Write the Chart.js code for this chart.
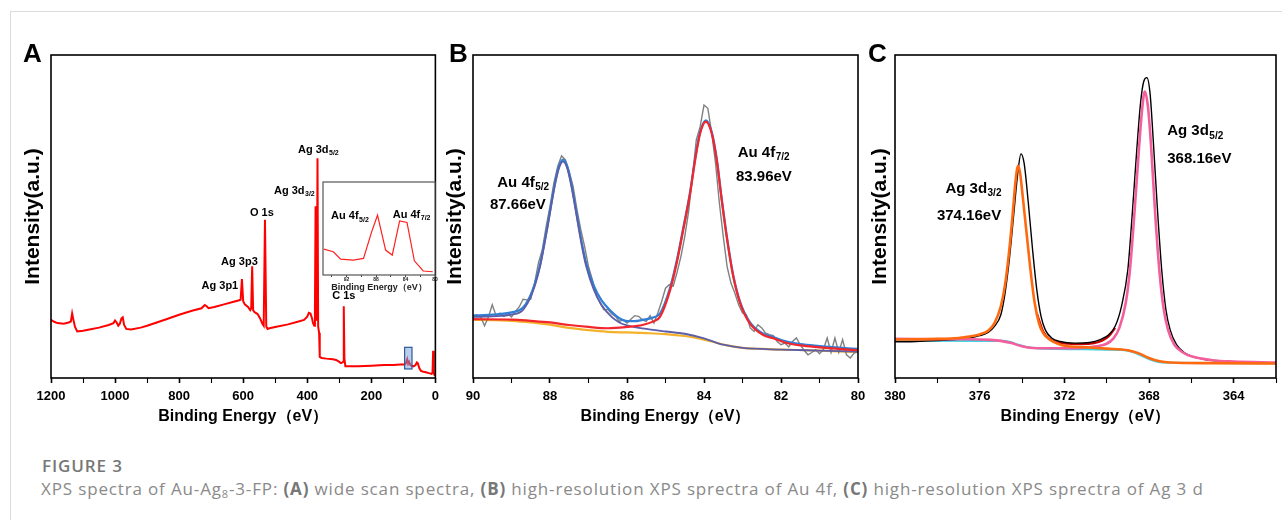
<!DOCTYPE html>
<html>
<head>
<meta charset="utf-8">
<script src="https://cdn.jsdelivr.net/npm/chart.js@4.4.1/dist/chart.umd.min.js"></script>
<style>
  body { margin: 0; background: #fff; width: 1282px; height: 520px; overflow: hidden; position: relative; }
  .card { position: absolute; left: 10px; top: 11px; width: 1272px; height: 509px; border-left: 1px solid #dcdcdc; border-top: 1px solid #dcdcdc; }
  canvas { position: absolute; }
  .letter { position: absolute; font: bold 26px "Liberation Sans", Arial, sans-serif; line-height: 26px; color: #000; }
  #fig { position: absolute; left: 42px; top: 457px; font: 600 17px "Open Sans", sans-serif; line-height: 17px; color: #777; letter-spacing: 0.9px; }
  #cap { position: absolute; left: 41px; top: 481px; font: 400 17px "Open Sans", sans-serif; line-height: 16px; color: #8a8a8a; white-space: nowrap; letter-spacing: 0.85px; }
  #cap b { font-weight: 700; color: #777; }
  #cap sub { font-size: 11px; vertical-align: -3px; line-height: 0; }
</style>
</head>
<body>
<div class="card"></div>
<canvas id="chartA" width="445" height="420" style="left:0;top:20px"></canvas>
<canvas id="chartB" width="432" height="420" style="left:440px;top:20px"></canvas>
<canvas id="chartC" width="422" height="420" style="left:860px;top:20px"></canvas>
<canvas id="inset" width="122" height="118" style="left:318px;top:176px"></canvas>
<div class="letter" style="left:23px;top:40px">A</div>
<div class="letter" style="left:449px;top:40px">B</div>
<div class="letter" style="left:868px;top:40px">C</div>
<div id="fig">FIGURE 3</div>
<div id="cap">XPS spectra of Au-Ag<sub>8</sub>-3-FP: <b>(A)</b> wide scan spectra, <b>(B)</b> high-resolution XPS sprectra of Au 4f, <b>(C)</b> high-resolution XPS sprectra of Ag 3 d</div>
<script>
const FONT = '"Liberation Sans", Arial, sans-serif';
Chart.defaults.font.family = FONT;
Chart.defaults.color = '#000';

// A: wide scan survey
const surveyE = [1200,1190,1180,1160,1145,1138,1134,1130,1125,1118,1100,1080,1050,1020,1005,1000,995,990,985,980,976,972,965,950,920,900,870,840,800,760,730,720,714,708,690,660,630,615,608,604,600,595,585,578,575,572,569,565,555,548,540,536,532,528,524,518,500,460,430,410,400,395,390,385,382,378,376,374,372,370,368,366,363,361,355,340,320,310,300,295,290,288,286,284,281,270,240,200,160,130,110,100,96,92,88,85,82,78,74,68,62,58,55,50,45,40,30,20,12,9,7,5,3,1,0];
const surveyI = [18.0,17.4,17.0,16.8,17.2,17.5,20.0,18.0,15.8,14.4,14.6,15.0,15.6,16.4,17.0,17.8,17.2,16.2,16.8,18.5,18.8,16.5,15.2,15.0,15.6,16.2,17.2,18.2,19.6,20.8,21.6,22.6,22.2,21.6,22.0,22.8,23.6,24.0,24.2,30.6,23.8,22.8,22.0,21.0,21.5,34.6,21.0,20.4,19.8,18.6,16.8,16.2,49.0,16.0,15.2,15.4,15.8,16.6,17.4,18.0,19.0,20.2,20.0,18.4,17.0,16.2,22.0,53.2,18.0,20.0,68.0,16.0,14.0,6.5,6.2,6.0,5.8,5.6,5.0,4.6,4.8,5.0,22.2,6.0,3.6,3.6,3.6,3.8,4.0,4.0,4.2,4.2,4.2,4.6,5.8,4.4,5.0,4.0,3.8,3.6,4.0,4.8,4.6,3.0,2.2,2.0,1.8,1.5,1.3,1.6,8.4,1.4,1.0,1.2,1.0];

// inset of A: Au 4f region
const insetE = [95.1,93.8,92.8,91.1,89.7,88.6,87.8,86.7,85.8,84.8,83.8,82.8,81.6,80.3];
const insetI = [27.9,25.0,17.1,16.1,17.9,46.4,64.3,26.8,21.4,58.2,56.5,15.3,4.3,3.5];

// B: Au 4f
const auRawE = [90.0,89.9,89.8,89.7,89.6,89.5,89.4,89.3,89.2,89.1,89.0,88.9,88.8,88.7,88.6,88.5,88.4,88.3,88.2,88.1,88.0,87.9,87.8,87.7,87.6,87.5,87.4,87.3,87.2,87.1,87.0,86.9,86.8,86.7,86.6,86.5,86.4,86.3,86.2,86.1,86.0,85.9,85.8,85.7,85.6,85.5,85.4,85.3,85.2,85.1,85.0,84.9,84.8,84.7,84.6,84.5,84.4,84.3,84.2,84.1,84.0,83.9,83.8,83.7,83.6,83.5,83.4,83.3,83.2,83.1,83.0,82.9,82.8,82.7,82.6,82.5,82.4,82.3,82.2,82.1,82.0,81.9,81.8,81.7,81.6,81.5,81.4,81.3,81.2,81.1,81.0,80.9,80.8,80.7,80.6,80.5,80.4,80.3,80.2,80.1,80.0];
const auRawI = [19.3,19.6,18.9,16.2,18.9,22.7,19.3,20.1,19.1,19.9,18.9,20.6,22.0,24.4,24.2,24.4,29.4,35.6,39.7,46.9,53.1,60.3,65.5,68.8,67.5,63.9,59.3,52.1,45.9,40.7,34.5,30.4,25.8,23.2,21.1,21.3,19.9,19.1,17.5,18.0,17.0,18.2,19.3,19.1,18.0,17.5,19.3,17.0,20.1,23.7,27.8,28.9,28.4,32.7,37.6,43.8,51.5,62.4,73.7,77.8,84.5,83.5,75.8,66.5,54.1,43.8,34.5,29.4,26.3,22.7,20.1,19.6,15.5,14.4,16.5,15.5,13.9,13.4,13.1,11.3,10.3,10.8,9.6,11.3,12.4,10.3,8.6,7.2,7.9,8.8,7.5,8.8,12.4,7.9,12.4,7.9,11.9,7.2,6.2,7.7,8.2];
const auEnvE = [90,89.5,89,88.7,88.46,88.26,88.16,88.06,87.96,87.86,87.76,87.66,87.56,87.46,87.36,87.26,87.16,87.06,86.86,86.66,86.4,86.2,86.0,85.8,85.6,85.3,85.14,84.88,84.71,84.54,84.36,84.23,84.10,83.95,83.80,83.67,83.54,83.41,83.24,83.06,82.81,82.46,82.2,81.9,81.5,81,80.5,80];
const auEnvI = [19.3,19.6,20.3,21.8,27.0,35.0,41.0,47.5,54.5,61.0,65.8,67.6,65.8,61.0,54.5,47.5,41.0,35.5,28.5,24.0,20.5,18.5,17.6,17.6,18.0,18.8,20.0,28.0,36.2,46.4,57.7,67.9,76.2,79.8,76.2,67.9,55.5,44.1,31.8,23.5,17.3,13.7,12.7,11.4,10.5,9.9,9.4,9.0];
const au52E = [90,89.5,89,88.7,88.46,88.26,88.16,88.06,87.96,87.86,87.76,87.66,87.56,87.46,87.36,87.26,87.16,87.06,86.86,86.66,86.4,86.2,86.0,85.5,85,84.5,84,83.5,83,82,81,80];
const au52I = [18.9,19.1,19.6,21.1,26.3,34.4,40.4,46.9,53.9,60.4,65.2,67.0,65.2,60.3,53.8,46.7,40.1,34.6,27.3,22.6,18.9,17.2,16.3,15.2,14.4,13.7,12.3,10.3,9.3,8.8,8.5,8.2];
const au72E = [90,89,88.5,88,87.5,87,86.5,86,85.6,85.3,85.14,84.88,84.71,84.54,84.36,84.23,84.10,83.95,83.80,83.67,83.54,83.41,83.24,83.06,82.81,82.46,82.2,81.9,81.5,81,80.5,80];
const au72I = [18.2,18.1,17.7,17.2,16.4,15.8,15.4,15.8,16.4,17.6,19.0,27.2,35.5,45.8,57.2,67.5,75.8,79.4,75.8,67.5,55.1,43.7,31.4,23.1,16.9,13.3,12.3,11.0,10.1,9.5,9.0,8.6];
const auBgE = [90,89.5,89,88.5,88,87.5,87,86.5,86,85.5,85,84.5,84.2,84,83.7,83.4,83,82.5,82,81,80];
const auBgI = [18.0,17.9,17.7,17.2,16.5,15.5,14.8,14.3,14.1,13.9,13.6,13.0,12.4,11.9,11.0,10.1,9.3,9.0,8.8,8.5,8.0];

// C: Ag 3d
const agRawE = [380,379,378,377,376.5,376,375.6,375.3,375.0,374.8,374.6,374.4,374.2,374.05,373.9,373.7,373.5,373.3,373.1,372.9,372.6,372.2,371.5,370.8,370.3,369.9,369.6,369.3,369.0,368.8,368.6,368.4,368.25,368.1,367.95,367.8,367.6,367.4,367.2,367.0,366.7,366.3,365.5,364.5,362];
const agRawI = [11.2,11.3,11.6,12.0,12.4,13.1,14.1,16.0,19.6,26.3,36.6,50.0,63.4,69.4,66.5,54.1,39.7,27.3,19.1,14.9,12.4,11.3,10.8,11.0,11.9,13.4,16.0,22.2,33.5,50.0,68.6,85.1,91.8,93.0,88.1,73.7,52.1,33.5,21.1,14.9,10.3,7.7,5.9,5.2,4.6];
const ag32E = [380,378,377,376.5,376,375.6,375.3,375.0,374.8,374.6,374.45,374.3,374.2,374.1,373.95,373.8,373.6,373.4,373.2,373.0,372.7,372.3,372.0,371,370,369,368.5,368.0,367.5,367.0,365,362];
const ag32I = [11.9,12.1,12.4,12.8,13.5,14.6,17.0,22.2,28.9,39.7,50.0,61.3,65.7,63.9,55.2,45.9,33.5,23.2,17.0,13.9,11.9,10.6,10.0,9.5,9.1,8.6,7.7,6.2,5.2,4.8,4.6,4.5];
const ag52E = [380,377,375.5,375,374.5,374,373.5,372,371,370.5,370,369.7,369.4,369.1,368.9,368.7,368.5,368.35,368.2,368.05,367.9,367.7,367.5,367.3,367.1,366.8,366.4,366.0,365.0,364.0,362.0];
const ag52I = [12.1,12.0,11.8,11.5,10.8,9.8,9.3,9.2,9.4,9.8,10.6,12.1,15.5,23.2,33.5,50.0,68.6,81.4,88.7,84.0,71.6,50.0,32.5,21.1,14.9,10.3,7.9,6.7,5.5,5.1,4.8];
const agBgE = [380,375,374.6,374.2,373.8,373.2,370,369,368.6,368.2,367.8,367.4,362];
const agBgI = [11.6,11.5,11.2,10.3,9.6,9.2,8.8,8.5,7.7,6.5,5.4,4.8,4.6];
const agEnvE = [373.3,373.0,372.7,372.3,371.8,371.2,370.6,370.2,369.9,369.6];
const agEnvI = [20.1,14.4,12.1,11.0,10.6,10.5,10.8,11.6,12.9,15.5];

function series(E, I, color, width, smooth) {
    return {
        data: E.map((e, i) => ({x: e, y: I[i]})),
        borderColor: color,
        borderWidth: width,
        pointRadius: 0,
        fill: false,
        tension: 0,
        cubicInterpolationMode: smooth ? 'monotone' : 'default'
    };
}

// frame, peak labels and highlight box drawn on top of the datasets
function decor(cfg) {
    return {
        id: 'decor',
        afterDatasetsDraw(chart) {
            const ctx = chart.ctx, a = chart.chartArea;
            const xs = chart.scales.x, ys = chart.scales.y;
            ctx.save();
            if (cfg.box) {
                const x0 = xs.getPixelForValue(cfg.box[0]), x1 = xs.getPixelForValue(cfg.box[1]);
                const y0 = ys.getPixelForValue(cfg.box[2]), y1 = ys.getPixelForValue(cfg.box[3]);
                ctx.fillStyle = 'rgba(120,160,220,0.5)';
                ctx.strokeStyle = '#2b5b9c';
                ctx.lineWidth = 1.2;
                ctx.fillRect(x0, y1, x1 - x0, y0 - y1);
                ctx.strokeRect(x0, y1, x1 - x0, y0 - y1);
            }
            ctx.fillStyle = '#000';
            ctx.textBaseline = 'alphabetic';
            ctx.textAlign = 'left';
            (cfg.labels || []).forEach(l => {
                const x = xs.getPixelForValue(l.x), y = ys.getPixelForValue(l.y);
                ctx.font = 'bold ' + cfg.size + 'px ' + FONT;
                ctx.fillText(l.t, x, y);
                if (l.s) {
                    const w = ctx.measureText(l.t).width;
                    ctx.font = 'bold ' + Math.round(cfg.size * 0.66) + 'px ' + FONT;
                    ctx.fillText(l.s, x + w + 0.5, y + cfg.size * 0.22);
                }
            });
            ctx.lineWidth = cfg.frameWidth || 1.6;
            ctx.strokeStyle = cfg.frameColor || '#000';
            ctx.strokeRect(a.left, a.top, a.right - a.left, a.bottom - a.top);
            ctx.restore();
        }
    };
}

function panel(id, datasets, o) {
    return new Chart(document.getElementById(id), {
        type: 'line',
        data: { datasets },
        options: {
            responsive: false,
            animation: false,
            devicePixelRatio: 1,
            layout: { padding: { top: 35, right: o.right, left: 0, bottom: 0 } },
            plugins: { legend: { display: false }, tooltip: { enabled: false } },
            scales: {
                x: {
                    type: 'linear', reverse: true, min: o.min, max: o.max,
                    ticks: {
                        stepSize: o.step, autoSkip: false, maxRotation: 0, includeBounds: false,
                        padding: 6, color: '#000', font: { size: 13, weight: 'bold' },
                        callback: v => (Math.round(v) % o.label === 0 ? v : '')
                    },
                    grid: {
                        drawOnChartArea: false, drawTicks: true, tickLength: 5, tickColor: '#000',
                        tickWidth: c => (c.tick && Math.round(c.tick.value) % o.label === 0 ? 1.6 : 1.1)
                    },
                    border: { display: false },
                    title: { display: true, text: 'Binding Energy（eV）', color: '#000',
                             font: { size: 16, weight: 'bold' }, padding: { top: 0, bottom: 13.4 } },
                    afterFit: s => { s.height = 62; }
                },
                y: {
                    min: 0, max: 100,
                    ticks: { display: false },
                    grid: { display: false },
                    border: { display: false },
                    title: { display: true, text: 'Intensity(a.u.)', color: '#000',
                             font: { size: 21, weight: 'bold' }, padding: { top: o.titlePad, bottom: 0 } },
                    afterFit: s => { s.width = o.yWidth; }
                }
            }
        },
        plugins: [decor(o.decor)]
    });
}

panel('chartA', [series(surveyE, surveyI, '#ff0000', 2, false)], {
    min: 0, max: 1200, step: 100, label: 200, right: 8, yWidth: 51, titlePad: 20.5,
    decor: {
        size: 11, box: [96, 73, 2.8, 9.5],
        labels: [
            {x: 429, y: 69.7, t: 'Ag 3d', s: '5/2'},
            {x: 504, y: 57, t: 'Ag 3d', s: '3/2'},
            {x: 579, y: 50.2, t: 'O 1s'},
            {x: 669, y: 35, t: 'Ag 3p3'},
            {x: 730, y: 27.5, t: 'Ag 3p1'},
            {x: 322, y: 24.4, t: 'C 1s'}
        ]
    }
});

panel('chartB', [
    series(au72E, au72I, '#f2262c', 2.2, true),
    series(au52E, au52I, '#5c5ea8', 1.8, true),
    series(auEnvE, auEnvI, '#2f7fd6', 2.2, true),
    series(auRawE, auRawI, '#808080', 1.4, false),
    series(auBgE, auBgI, '#f4b12a', 2.2, true)
], {
    min: 80, max: 90, step: 1, label: 2, right: 14, yWidth: 33, titlePad: 3,
    decor: {
        size: 15,
        labels: [
            {x: 89.37, y: 59.2, t: 'Au 4f', s: '5/2'},
            {x: 89.56, y: 52.2, t: '87.66eV'},
            {x: 83.125, y: 68.5, t: 'Au 4f', s: '7/2'},
            {x: 83.17, y: 61.1, t: '83.96eV'}
        ]
    }
});

panel('chartC', [
    series(ag32E, ag32I, '#ff6a10', 2.6, true),
    series(ag52E, ag52I, '#f35e9c', 2.6, true),
    series(agRawE, agRawI, '#000000', 1.4, true),
    series(agEnvE, agEnvI, '#c80000', 2.2, true),
    series(agBgE, agBgI, '#38d3e0', 2.2, true)
], {
    min: 362, max: 380, step: 2, label: 4, right: 2, yWidth: 35, titlePad: 8,
    decor: {
        size: 15,
        labels: [
            {x: 377.62, y: 57.4, t: 'Ag 3d', s: '3/2'},
            {x: 378.02, y: 48.9, t: '374.16eV'},
            {x: 367.14, y: 75.1, t: 'Ag 3d', s: '5/2'},
            {x: 367.14, y: 66.5, t: '368.16eV'}
        ]
    }
});

// inset
new Chart(document.getElementById('inset'), {
    type: 'line',
    data: { datasets: [series(insetE, insetI, '#ff2020', 1.2, false)] },
    options: {
        responsive: false,
        animation: false,
        devicePixelRatio: 1,
        layout: { padding: { top: 6, right: 5, left: 5, bottom: 0 } },
        plugins: { legend: { display: false }, tooltip: { enabled: false } },
        scales: {
            x: {
                type: 'linear', reverse: true, min: 80, max: 95.2,
                ticks: {
                    stepSize: 2, autoSkip: false, maxRotation: 0, includeBounds: false, padding: 0,
                    color: '#222', font: { size: 5, weight: 'bold' },
                    callback: v => (Math.round(v) % 4 === 0 ? v : '')
                },
                grid: { drawOnChartArea: false, drawTicks: true, tickLength: 2, tickColor: '#444' },
                border: { display: false },
                title: { display: true, text: 'Binding Energy（eV）', color: '#222',
                         font: { size: 9, weight: 'bold' }, padding: { top: 0, bottom: 1.1 } },
                afterFit: s => { s.height = 19; }
            },
            y: { display: false, min: 0, max: 100 }
        }
    },
    plugins: [
        { id: 'bg', beforeDraw(chart) {
            const a = chart.chartArea;
            chart.ctx.save();
            chart.ctx.fillStyle = '#fff';
            chart.ctx.fillRect(a.left, a.top, a.right - a.left, a.bottom - a.top);
            chart.ctx.restore();
        } },
        decor({
            size: 11, frameWidth: 1.2, frameColor: '#555',
            labels: [
                {x: 94.1, y: 59.7, t: 'Au 4f', s: '5/2'},
                {x: 85.73, y: 61.8, t: 'Au 4f', s: '7/2'}
            ]
        })
    ]
});
</script>
</body>
</html>
